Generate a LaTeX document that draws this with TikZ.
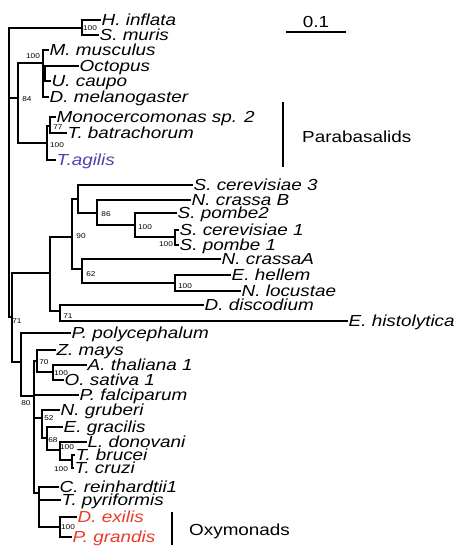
\documentclass[tikz,border=0pt]{standalone}
\usepackage{fontspec}
\setmainfont{Liberation Sans}[FakeStretch=1.18]
\definecolor{tagblue}{RGB}{80,66,170}
\definecolor{oxred}{RGB}{236,58,40}
\newcommand\leaffont{\fontsize{16}{18}\selectfont\itshape}
\newcommand\bsfont{\fontsize{7}{8}\selectfont}
\newcommand\grpfont{\fontsize{16}{18}\selectfont}
\newcommand\edges[2]{\foreach \c in {#2} {\draw[br] (#1) |- (\c);}}
\begin{document}
\begin{tikzpicture}[x=1pt,y=-1pt,
  leaf/.style={anchor=west, inner xsep=1.5pt, inner ysep=0pt, font=\leaffont, text height=11.5pt, text depth=0.1pt},
  bs/.style={inner sep=0pt, font=\bsfont},
  grp/.style={anchor=west, inner sep=0pt, font=\grpfont},
  br/.style={line width=1.1pt, line cap=rect, line join=miter}]
\useasboundingbox (0,0) rectangle (459,551);
% internal nodes
\coordinate (root) at (9,28);
\coordinate (nHS) at (82,28);
\coordinate (n84) at (18,98);
\coordinate (nAni) at (43,63);
\coordinate (nOU) at (45,74);
\coordinate (nPara) at (47,143);
\coordinate (n77) at (50,126);
\coordinate (n71) at (12,317);
\coordinate (nF) at (50,273);
\coordinate (n90) at (72,237);
\coordinate (nSc) at (78,199);
\coordinate (n86) at (97,213);
\coordinate (nA) at (135,225);
\coordinate (nB) at (175,237);
\coordinate (n62) at (82,269);
\coordinate (nC) at (175,283);
\coordinate (nDE) at (60,311);
\coordinate (nP) at (21,362);
\coordinate (n80) at (34,396);
\coordinate (n70) at (37,361);
\coordinate (nAO) at (53,372);
\coordinate (n52) at (42,418);
\coordinate (n68) at (47,438);
\coordinate (nL) at (60,450);
\coordinate (nT) at (72,460);
\coordinate (nCT) at (39,493);
\coordinate (nOx) at (60,527);
% leaves
\node[leaf] (hinf) at (100,20) {H. inflata};
\node[leaf] (smur) at (98,35) {S. muris};
\node[leaf] (mmus) at (48,50) {M. musculus};
\node[leaf] (octo) at (78,66) {Octopus};
\node[leaf] (ucau) at (50,81) {U. caupo};
\node[leaf] (dmel) at (48,97) {D. melanogaster};
\node[leaf] (mono) at (55,117) {Monocercomonas sp. 2};
\node[leaf] (tbat) at (66,133) {T. batrachorum};
\node[leaf, text=tagblue] (tagi) at (55,160) {T.agilis};
\node[leaf] (scer3) at (192,185) {S. cerevisiae 3};
\node[leaf] (ncrB) at (190,200) {N. crassa B};
\node[leaf] (spo2) at (176,213) {S. pombe2};
\node[leaf] (scer1) at (178,230) {S. cerevisiae 1};
\node[leaf] (spo1) at (178,245) {S. pombe 1};
\node[leaf] (ncrA) at (220,259) {N. crassaA};
\node[leaf] (ehel) at (230,275) {E. hellem};
\node[leaf] (nloc) at (240,291) {N. locustae};
\node[leaf] (ddis) at (203,305) {D. discodium};
\node[leaf] (ehis) at (347,321) {E. histolytica};
\node[leaf] (ppol) at (70,333) {P. polycephalum};
\node[leaf] (zmay) at (55,350) {Z. mays};
\node[leaf] (atha) at (86,365) {A. thaliana 1};
\node[leaf] (osat) at (63,380) {O. sativa 1};
\node[leaf] (pfal) at (78,395) {P. falciparum};
\node[leaf] (ngru) at (59,410) {N. gruberi};
\node[leaf] (egra) at (62,427) {E. gracilis};
\node[leaf] (ldon) at (86,442) {L. donovani};
\node[leaf] (tbru) at (74,455) {T. brucei};
\node[leaf] (tcru) at (73,468) {T. cruzi};
\node[leaf] (crei) at (58,487) {C. reinhardtii1};
\node[leaf] (tpyr) at (60,500) {T. pyriformis};
\node[leaf, text=oxred] (dexi) at (76,517) {D. exilis};
\node[leaf, text=oxred] (pgra) at (71,537) {P. grandis};
% branches
\edges{root}{nHS,n84,n71}
\edges{nHS}{hinf.west,smur.west}
\edges{n84}{nAni,nPara}
\edges{nAni}{mmus.west,nOU,dmel.west}
\edges{nOU}{octo.west,ucau.west}
\edges{nPara}{n77,tagi.west}
\edges{n77}{mono.west,tbat.west}
\edges{n71}{nF,nP}
\edges{nF}{n90,nDE}
\edges{n90}{nSc,n62}
\edges{nSc}{scer3.west,n86}
\edges{n86}{ncrB.west,nA}
\edges{nA}{spo2.west,nB}
\edges{nB}{scer1.west,spo1.west}
\edges{n62}{ncrA.west,nC}
\edges{nC}{ehel.west,nloc.west}
\edges{nDE}{ddis.west,ehis.west}
\edges{nP}{ppol.west,n80}
\edges{n80}{n70,pfal.west,n52,nCT}
\edges{n70}{zmay.west,nAO}
\edges{nAO}{atha.west,osat.west}
\edges{n52}{ngru.west,n68}
\edges{n68}{egra.west,nL}
\edges{nL}{ldon.west,nT}
\edges{nT}{tbru.west,tcru.west}
\edges{nCT}{crei.west,tpyr.west,nOx}
\edges{nOx}{dexi.west,pgra.west}
% bootstrap values
\node[bs] (b1) at (90,28) {100};
\node[bs] (b2) at (33,56) {100};
\node[bs] (b3) at (27,99) {84};
\node[bs] (b4) at (58,127) {77};
\node[bs] (b5) at (57,145) {100};
\node[bs] (b6) at (81,236) {90};
\node[bs] (b7) at (106,214) {86};
\node[bs] (b8) at (145,227) {100};
\node[bs] (b9) at (166,244) {100};
\node[bs] (b10) at (91,274) {62};
\node[bs] (b11) at (185,286) {100};
\node[bs] (b12) at (68,316) {71};
\node[bs] (b13) at (17,321) {71};
\node[bs] (b14) at (44,362) {70};
\node[bs] (b15) at (61,373) {100};
\node[bs] (b16) at (26,403) {80};
\node[bs] (b17) at (49,418) {52};
\node[bs] (b18) at (53,440) {68};
\node[bs] (b19) at (67,447) {100};
\node[bs] (b20) at (61,469) {100};
\node[bs] (b21) at (68,527) {100};
% scale bar
\coordinate (sbl) at (287,32);
\coordinate (sbr) at (345,32);
\draw[br] (sbl) -- (sbr);
\node[font=\grpfont, inner sep=0pt] (sbt) at (316,22) {0.1};
% group labels
\coordinate (pbt) at (283,103);
\coordinate (pbb) at (283,166);
\draw[br] (pbt) -- (pbb);
\node[grp] (para) at (302,137) {Parabasalids};
\coordinate (oxt) at (172,513);
\coordinate (oxb) at (172,544);
\draw[br] (oxt) -- (oxb);
\node[grp] (oxy) at (189,531) {Oxymonads};
\end{tikzpicture}
\end{document}
